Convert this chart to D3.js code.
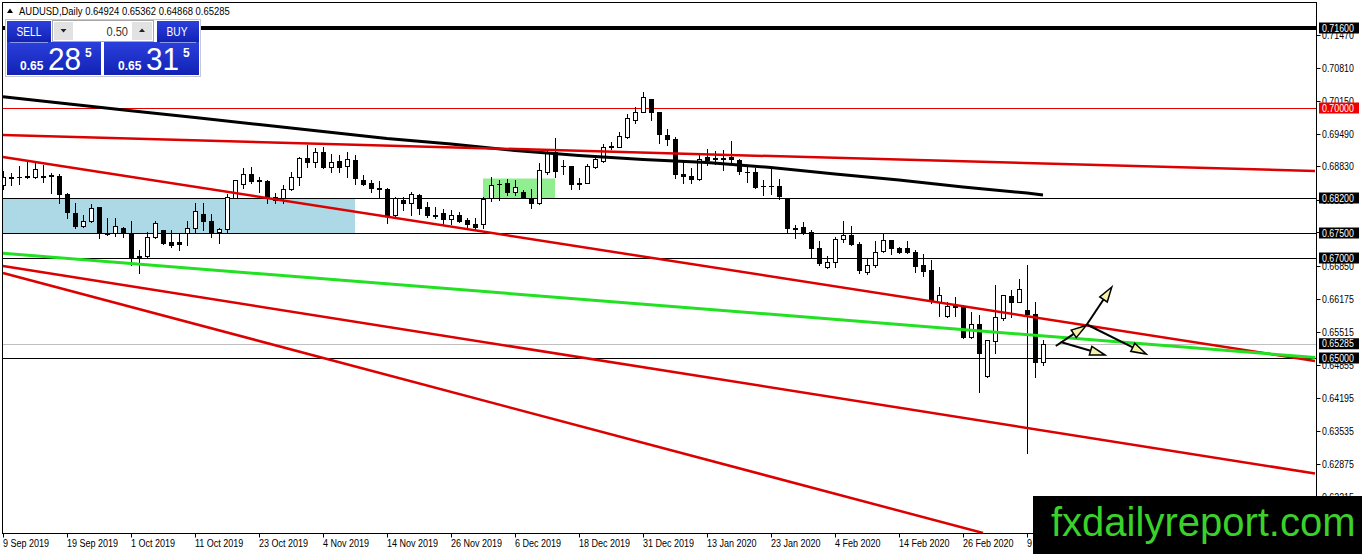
<!DOCTYPE html>
<html>
<head>
<meta charset="utf-8">
<title>AUDUSD, Daily</title>
<script src="https://cdn.jsdelivr.net/npm/d3@7"></script>
<style>
  body { margin: 0; background: #fff; }
  text { font-family: "Liberation Sans", Arial, sans-serif; }
</style>
</head>
<body>
<div id="chart"></div>
<script>
// ---- data ----
const symbol = "AUDUSD,Daily";
const bid = 0.65285, ask = 0.65315, lots = "0.50";

// daily bars, 9 Sep 2019 .. 11 Mar 2020 (index = trading day)
const open = [
  0.6846,0.6860,0.6862,0.6864,0.6862,0.6864,0.6866,0.6864,0.6828,0.6790,
  0.6764,0.6774,0.6802,0.6750,0.6750,0.6760,0.6750,0.6702,0.6704,0.6742,
  0.6756,0.6732,0.6732,0.6750,0.6760,0.6788,0.6774,0.6752,0.6758,0.6820,
  0.6848,0.6868,0.6856,0.6854,0.6822,0.6820,0.6838,0.6862,0.6900,0.6892,
  0.6912,0.6882,0.6894,0.6884,0.6896,0.6856,0.6850,0.6840,0.6838,0.6786,
  0.6816,0.6810,0.6826,0.6802,0.6786,0.6790,0.6778,0.6786,0.6776,0.6768,
  0.6768,0.6820,0.6848,0.6850,0.6832,0.6832,0.6820,0.6810,0.6872,0.6912,
  0.6884,0.6884,0.6850,0.6850,0.6882,0.6894,0.6922,0.6922,0.6942,0.6976,
  0.6992,0.7018,0.6992,0.6946,0.6938,0.6868,0.6864,0.6858,0.6902,0.6900,
  0.6900,0.6902,0.6896,0.6872,0.6872,0.6844,0.6844,0.6844,0.6820,0.6760,
  0.6762,0.6752,0.6720,0.6682,0.6692,0.6738,0.6746,0.6728,0.6672,0.6686,
  0.6714,0.6736,0.6720,0.6720,0.6712,0.6686,0.6676,0.6612,0.6584,0.6606,
  0.6602,0.6542,0.6568,0.6464,0.6534,0.6580,0.6624,0.6612,0.6596,0.6588,
  0.64924];
const high = [
  0.6874,0.6870,0.6884,0.6892,0.6890,0.6886,0.6870,0.6868,0.6830,0.6810,
  0.6786,0.6808,0.6802,0.6780,0.6780,0.6762,0.6774,0.6716,0.6752,0.6774,
  0.6756,0.6756,0.6750,0.6774,0.6810,0.6810,0.6788,0.6760,0.6828,0.6856,
  0.6880,0.6882,0.6862,0.6856,0.6830,0.6846,0.6872,0.6902,0.6926,0.6920,
  0.6922,0.6908,0.6906,0.6912,0.6906,0.6866,0.6856,0.6854,0.6840,0.6822,
  0.6822,0.6832,0.6828,0.6812,0.6802,0.6798,0.6796,0.6792,0.6780,0.6780,
  0.6822,0.6862,0.6856,0.6858,0.6856,0.6836,0.6838,0.6890,0.6916,0.6940,
  0.6896,0.6884,0.6860,0.6888,0.6900,0.6928,0.6932,0.6952,0.6988,0.7002,
  0.7032,0.7018,0.6992,0.6958,0.6942,0.6892,0.6880,0.6910,0.6918,0.6914,
  0.6916,0.6934,0.6898,0.6882,0.6880,0.6856,0.6880,0.6858,0.6820,0.6766,
  0.6772,0.6756,0.6734,0.6704,0.6742,0.6774,0.6764,0.6732,0.6700,0.6734,
  0.6750,0.6736,0.6722,0.6734,0.6716,0.6708,0.6696,0.6642,0.6612,0.6622,
  0.6606,0.6592,0.6586,0.6536,0.6646,0.6626,0.6636,0.6658,0.6686,0.6612,
  0.65362];
const low = [
  0.6838,0.6846,0.6848,0.6860,0.6860,0.6852,0.6830,0.6810,0.6780,0.6760,
  0.6762,0.6772,0.6740,0.6746,0.6744,0.6742,0.6686,0.6670,0.6702,0.6740,
  0.6728,0.6722,0.6716,0.6726,0.6752,0.6756,0.6742,0.6730,0.6752,0.6820,
  0.6840,0.6850,0.6832,0.6810,0.6810,0.6810,0.6836,0.6846,0.6882,0.6882,
  0.6880,0.6872,0.6872,0.6862,0.6848,0.6846,0.6832,0.6820,0.6770,0.6784,
  0.6796,0.6786,0.6788,0.6782,0.6780,0.6768,0.6768,0.6772,0.6760,0.6756,
  0.6760,0.6814,0.6816,0.6826,0.6826,0.6820,0.6800,0.6808,0.6868,0.6862,
  0.6868,0.6838,0.6838,0.6850,0.6880,0.6892,0.6918,0.6922,0.6940,0.6970,
  0.6992,0.6976,0.6930,0.6926,0.6860,0.6850,0.6850,0.6856,0.6886,0.6888,
  0.6876,0.6890,0.6868,0.6852,0.6840,0.6826,0.6828,0.6818,0.6750,0.6740,
  0.6748,0.6700,0.6686,0.6680,0.6682,0.6732,0.6726,0.6670,0.6668,0.6682,
  0.6712,0.6708,0.6710,0.6710,0.6672,0.6664,0.6610,0.6584,0.6582,0.6584,
  0.6540,0.6540,0.6432,0.6462,0.6510,0.6576,0.6582,0.6612,0.6310,0.6462,
  0.64868];
const close = [
  0.6862,0.6861,0.6861,0.6862,0.6878,0.6862,0.6865,0.6828,0.6792,0.6764,
  0.6774,0.6800,0.6750,0.6748,0.6764,0.6750,0.6702,0.6704,0.6742,0.6770,
  0.6730,0.6726,0.6728,0.6760,0.6794,0.6774,0.6750,0.6758,0.6822,0.6856,
  0.6868,0.6854,0.6855,0.6820,0.6816,0.6838,0.6862,0.6900,0.6892,0.6912,
  0.6882,0.6892,0.6882,0.6898,0.6860,0.6848,0.6840,0.6839,0.6784,0.6820,
  0.6810,0.6828,0.6800,0.6786,0.6785,0.6778,0.6786,0.6774,0.6768,0.6762,
  0.6818,0.6846,0.6849,0.6832,0.6842,0.6822,0.6810,0.6876,0.6910,0.6874,
  0.6883,0.6848,0.6849,0.6884,0.6898,0.6922,0.6923,0.6944,0.6980,0.6992,
  0.7022,0.6992,0.6948,0.6938,0.6868,0.6864,0.6858,0.6898,0.6896,0.6899,
  0.6899,0.6898,0.6874,0.6871,0.6842,0.6843,0.6843,0.6824,0.6760,0.6759,
  0.6752,0.6720,0.6690,0.6692,0.6738,0.6746,0.6728,0.6676,0.6686,0.6712,
  0.6736,0.6720,0.6712,0.6712,0.6684,0.6674,0.6614,0.6626,0.6604,0.6602,
  0.6542,0.6568,0.6510,0.6536,0.6582,0.6626,0.6612,0.6638,0.6588,0.6492,
  0.65285];

// time axis
const dateTickBars = [0, 8, 16, 24, 32, 40, 48, 56, 64, 72, 80, 88, 96, 104, 112, 120, 128];
const dateTickLabels = ["9 Sep 2019", "19 Sep 2019", "1 Oct 2019", "11 Oct 2019", "23 Oct 2019",
  "4 Nov 2019", "14 Nov 2019", "26 Nov 2019", "6 Dec 2019", "18 Dec 2019", "31 Dec 2019",
  "13 Jan 2020", "23 Jan 2020", "4 Feb 2020", "14 Feb 2020", "26 Feb 2020", "9 Mar 2020"];

// price axis
const priceTicks = [0.71470, 0.70810, 0.70150, 0.69490, 0.68830, 0.68170, 0.67510, 0.66850,
  0.66175, 0.65515, 0.64855, 0.64195, 0.63535, 0.62875, 0.62215];

// horizontal levels
const levelsBlack = [0.682, 0.675, 0.670, 0.650];
const levelRed = 0.700;
const levelTop = 0.716;

// long moving average (black), sampled every 8 bars
const maBars = [0, 8, 16, 24, 32, 40, 48, 56, 64, 72, 80, 88, 96, 104, 112, 120, 128, 130];
const maValues = [0.70226, 0.70086, 0.69946, 0.69808, 0.6967, 0.6953, 0.6939, 0.6928, 0.6915,
  0.6905, 0.6897, 0.6891, 0.6881, 0.6868, 0.6856, 0.6842, 0.6830, 0.6826];

// trend lines: [bar, price] end points
const redLines = [
  [[0, 0.6946], [164, 0.6874]],
  [[0, 0.6902], [164, 0.6494]],
  [[0, 0.6684], [164, 0.6269]],
  [[0, 0.6670], [122.5, 0.6150]]
];
const greenLine = [[0, 0.67094], [164, 0.6501]];

// zones: [bar from, bar to, price low, price high]
const blueZone = [-1, 44, 0.675, 0.682];
const greenZone = [60, 69, 0.682, 0.6859];

// arrows drawn on the chart: [from, to] as [bar, price]
const arrows = [
  [[131.6, 0.6524], [135.4, 0.6565]],
  [[135.4, 0.6565], [138.6, 0.6642]],
  [[135.6, 0.6566], [142.9, 0.6508]],
  [[132.2, 0.6532], [137.75, 0.6506]]
];

// ---- drawing ----
const W = 1362, H = 554;
const plotL = 2.5, plotT = 2.5, plotR = 1316.5, plotB = 533.5;

const x = d3.scaleLinear().domain([0, 164]).range([3, 1315]);
const y = d3.scaleLinear().domain([0.615, 0.7216]).range([533, 0]);

const svg = d3.select("#chart").append("svg")
  .attr("width", W).attr("height", H)
  .style("display", "block");

// narrow the text like the screenshot's tahoma
function squeeze(sel, k) {
  sel.each(function () {
    const w = this.getComputedTextLength();
    d3.select(this).attr("textLength", w * k).attr("lengthAdjust", "spacingAndGlyphs");
  });
}

const defs = svg.append("defs");
defs.append("clipPath").attr("id", "plot")
  .append("rect").attr("x", plotL).attr("y", plotT)
  .attr("width", plotR - plotL).attr("height", plotB - plotT);
const grad = defs.append("linearGradient").attr("id", "blue")
  .attr("x1", 0).attr("y1", 0).attr("x2", 0).attr("y2", 1);
grad.append("stop").attr("offset", "0%").attr("stop-color", "#2b3fdc");
grad.append("stop").attr("offset", "100%").attr("stop-color", "#1122b4");

const plot = svg.append("g").attr("clip-path", "url(#plot)");

// zones
[[blueZone, "#add8e6"], [greenZone, "#90ee90"]].forEach(([z, col]) => {
  plot.append("rect")
    .attr("x", x(z[0])).attr("y", y(z[3]))
    .attr("width", x(z[1]) - x(z[0])).attr("height", y(z[2]) - y(z[3]))
    .attr("fill", col);
});

// horizontal levels
function hline(p, col, w) {
  const yy = Math.round(y(p)) + (w % 2 ? 0.5 : 0);
  plot.append("line").attr("x1", plotL).attr("x2", plotR)
    .attr("y1", yy).attr("y2", yy)
    .attr("stroke", col).attr("stroke-width", w);
}
hline(bid, "#c0c0c0", 1);
levelsBlack.forEach(p => hline(p, "#000", 1));
hline(levelRed, "#e00000", 1);
hline(levelTop, "#000", 4);

// candles
const bars = d3.range(open.length).map(i => ({
  i, o: open[i], h: high[i], l: low[i], c: close[i]
}));
const candle = plot.append("g").selectAll("g").data(bars).join("g");
candle.append("line")
  .attr("x1", d => x(d.i) + 0.5).attr("x2", d => x(d.i) + 0.5)
  .attr("y1", d => Math.round(y(d.h))).attr("y2", d => Math.round(y(d.l)) + 1)
  .attr("stroke", "#000").attr("stroke-width", 1);
candle.each(function (d) {
  const g = d3.select(this);
  const yt = Math.round(y(Math.max(d.o, d.c))), yb = Math.round(y(Math.min(d.o, d.c)));
  if (yb - yt < 1) {
    g.append("line").attr("x1", x(d.i) - 2).attr("x2", x(d.i) + 3)
      .attr("y1", yt + 0.5).attr("y2", yt + 0.5)
      .attr("stroke", "#000").attr("stroke-width", 1);
  } else {
    g.append("rect").attr("x", x(d.i) - 1.5).attr("y", yt + 0.5)
      .attr("width", 4).attr("height", yb - yt)
      .attr("fill", d.c >= d.o ? "#fff" : "#000")
      .attr("stroke", "#000").attr("stroke-width", 1);
  }
});

// lines
const line = d3.line().x(d => x(d[0])).y(d => y(d[1]));
plot.append("path")
  .attr("d", line(maBars.map((b, k) => [b, maValues[k]])))
  .attr("fill", "none").attr("stroke", "#000").attr("stroke-width", 3);
redLines.forEach(pts => {
  plot.append("path").attr("d", line(pts))
    .attr("fill", "none").attr("stroke", "#dd0000").attr("stroke-width", 2.5);
});
plot.append("path").attr("d", line(greenLine))
  .attr("fill", "none").attr("stroke", "#22e022").attr("stroke-width", 3);

// arrows
arrows.forEach(([a, b]) => {
  const x0 = x(a[0]), y0 = y(a[1]), x1 = x(b[0]), y1 = y(b[1]);
  const ang = Math.atan2(y1 - y0, x1 - x0), L = 15, hw = 4.5;
  const bx = x1 - L * Math.cos(ang), by = y1 - L * Math.sin(ang);
  plot.append("line").attr("x1", x0).attr("y1", y0).attr("x2", bx).attr("y2", by)
    .attr("stroke", "#000").attr("stroke-width", 2);
  plot.append("polygon")
    .attr("points", [[x1, y1],
      [bx + hw * Math.sin(ang), by - hw * Math.cos(ang)],
      [bx - hw * Math.sin(ang), by + hw * Math.cos(ang)]].map(p => p.join(",")).join(" "))
    .attr("fill", "#f4f2a6").attr("stroke", "#000").attr("stroke-width", 1.5)
    .attr("stroke-linejoin", "miter");
});

// frame
svg.append("rect").attr("x", plotL).attr("y", plotT)
  .attr("width", plotR - plotL).attr("height", plotB - plotT)
  .attr("fill", "none").attr("stroke", "#000").attr("stroke-width", 1);

// price axis
const pt = svg.append("g");
priceTicks.forEach(p => {
  const yy = Math.round(y(p)) + 0.5;
  pt.append("line").attr("x1", plotR).attr("x2", plotR + 4).attr("y1", yy).attr("y2", yy)
    .attr("stroke", "#000");
  pt.append("text").attr("x", 1322).attr("y", yy + 3.5)
    .attr("font-size", 10).attr("fill", "#000").text(p.toFixed(5));
});
squeeze(pt.selectAll("text"), 0.88);

// level price tags
const tags = svg.append("g");
[[levelTop, "#000"], [levelRed, "#ee0000"], ...levelsBlack.slice(0, 3).map(p => [p, "#000"]),
 [bid, "#000"], [levelsBlack[3], "#000"]].forEach(([p, col]) => {
  const yy = y(p);
  tags.append("rect").attr("x", 1319).attr("y", yy - 5.5).attr("width", 40).attr("height", 11)
    .attr("fill", col);
  tags.append("text").attr("x", 1322).attr("y", yy + 3.5)
    .attr("font-size", 10).attr("fill", "#fff").text(p.toFixed(5));
});
squeeze(tags.selectAll("text"), 0.88);

// time axis
const tt = svg.append("g");
dateTickBars.forEach((b, k) => {
  const xx = Math.round(x(b)) + 0.5;
  tt.append("line").attr("x1", xx).attr("x2", xx).attr("y1", plotB).attr("y2", plotB + 4)
    .attr("stroke", "#000");
  tt.append("text").attr("x", xx - 0.5).attr("y", 547)
    .attr("font-size", 10).attr("fill", "#000").text(dateTickLabels[k]);
});
squeeze(tt.selectAll("text"), 0.9);

// header
const last = open.length - 1;
svg.append("path").attr("d", "M7,13 L10,8.5 L13,13 Z").attr("fill", "#000");
const hdr = svg.append("text").attr("x", 19).attr("y", 14.5).attr("font-size", 10.5).attr("fill", "#000")
  .text(symbol + "  " + [open[last], high[last], low[last], close[last]].map(v => v.toFixed(5)).join(" "));
squeeze(hdr, 0.9);

// one-click trading panel
const panel = svg.append("g");
panel.append("rect").attr("x", 5.5).attr("y", 19.5).attr("width", 195).attr("height", 57)
  .attr("fill", "#fff").attr("stroke", "#c8c8c8");
panel.append("rect").attr("x", 7).attr("y", 21).attr("width", 44).attr("height", 21).attr("fill", "url(#blue)");
panel.append("rect").attr("x", 157).attr("y", 21).attr("width", 42).attr("height", 21).attr("fill", "url(#blue)");
panel.append("rect").attr("x", 7).attr("y", 42).attr("width", 94).attr("height", 33).attr("fill", "url(#blue)");
panel.append("rect").attr("x", 104).attr("y", 42).attr("width", 95).attr("height", 33).attr("fill", "url(#blue)");
panel.append("line").attr("x1", 10).attr("x2", 48).attr("y1", 42.5).attr("y2", 42.5).attr("stroke", "#8a98e6");
panel.append("line").attr("x1", 160).attr("x2", 196).attr("y1", 42.5).attr("y2", 42.5).attr("stroke", "#8a98e6");
// lot spinner
panel.append("rect").attr("x", 52.5).attr("y", 20.5).attr("width", 101).attr("height", 21)
  .attr("fill", "#fff").attr("stroke", "#a8a8a8");
panel.append("rect").attr("x", 54).attr("y", 22).attr("width", 19).attr("height", 18).attr("fill", "#e2e2e2");
panel.append("rect").attr("x", 132).attr("y", 22).attr("width", 20).attr("height", 18).attr("fill", "#e2e2e2");
panel.append("path").attr("d", "M60.5,29 h6 l-3,3.5 Z").attr("fill", "#222");
panel.append("path").attr("d", "M139,32 h6 l-3,-3.5 Z").attr("fill", "#222");
const lotText = panel.append("text").attr("x", 128).attr("y", 35.5).attr("text-anchor", "end")
  .attr("font-size", 13).attr("fill", "#333").text(lots);
squeeze(lotText, 0.85);
const btnText = panel.selectAll(".btn").data([["SELL", 29], ["BUY", 177]]).join("text")
  .attr("x", d => d[1]).attr("y", 35.5).attr("text-anchor", "middle")
  .attr("font-size", 13).attr("fill", "#fff").text(d => d[0]);
squeeze(btnText, 0.78);

function quote(px, x0) {
  const s = px.toFixed(5);
  panel.append("text").attr("x", x0).attr("y", 70).attr("font-size", 12).attr("font-weight", "bold")
    .attr("fill", "#fff").text(s.slice(0, 4));
  const big = panel.append("text").attr("x", x0 + 28).attr("y", 70).attr("font-size", 32)
    .attr("fill", "#fff").text(s.slice(4, 6));
  squeeze(big, 0.93);
  panel.append("text").attr("x", x0 + 65).attr("y", 57).attr("font-size", 12).attr("font-weight", "bold")
    .attr("fill", "#fff").text(s.slice(6));
}
quote(bid, 20);
quote(ask, 118);

// watermark
svg.append("rect").attr("x", 1033).attr("y", 496).attr("width", 329).attr("height", 58).attr("fill", "#000");
svg.append("text").attr("x", 1051).attr("y", 536).attr("font-size", 40).attr("fill", "#3ad12b")
  .text("fxdailyreport.com");
</script>
</body>
</html>
